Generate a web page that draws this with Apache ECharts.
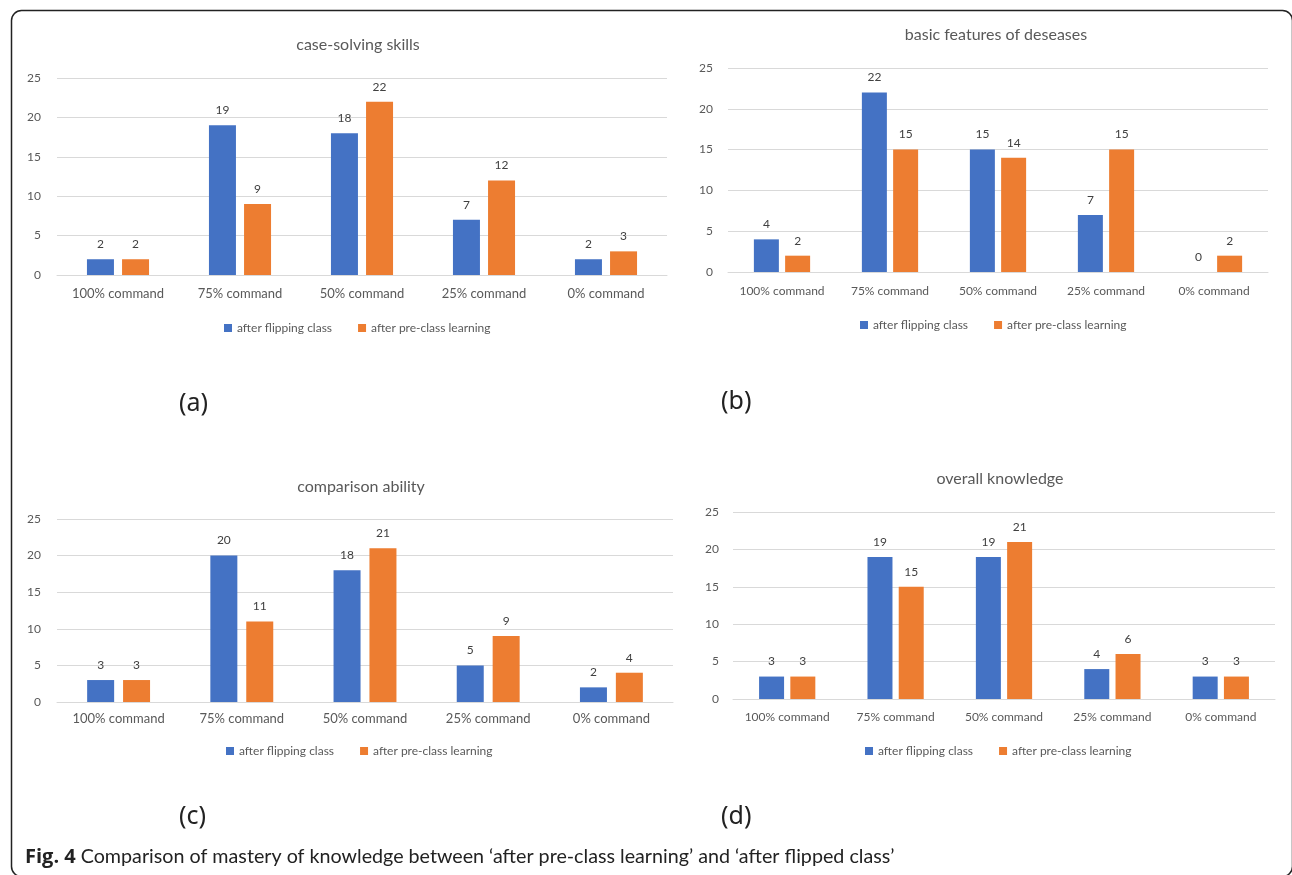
<!DOCTYPE html>
<html>
<head>
<meta charset="utf-8">
<script src="https://cdn.jsdelivr.net/npm/echarts@6/dist/echarts.min.js"></script>
<style>
  html, body { margin: 0; padding: 0; background: #fff; }
  #chart { width: 1292px; height: 875px; }
</style>
</head>
<body>
<div id="chart"></div>
<script>
// ---------- data ----------
const categories = ['100% command', '75% command', '50% command', '25% command', '0% command'];
const seriesNames = ['after flipping class', 'after pre-class learning'];
const yTicks = [0, 5, 10, 15, 20, 25];

const titleA = 'case-solving skills';
const flipA = [2, 19, 18, 7, 2];
const preA  = [2, 9, 22, 12, 3];

const titleB = 'basic features of deseases';
const flipB = [4, 22, 15, 7, 0];
const preB  = [2, 15, 14, 15, 2];

const titleC = 'comparison ability';
const flipC = [3, 20, 18, 5, 2];
const preC  = [3, 11, 21, 9, 4];

const titleD = 'overall knowledge';
const flipD = [3, 19, 19, 4, 3];
const preD  = [3, 15, 21, 6, 3];

const panelTags = ['(a)', '(b)', '(c)', '(d)'];
const captionBold = 'Fig. 4';
const captionText = ' Comparison of mastery of knowledge between \u2018after pre-class learning\u2019 and \u2018after flipped class\u2019';

// ---------- layout ----------
const FONT = 'Lato, "Open Sans", sans-serif';
const BLUE = '#4472C4', ORANGE = '#ED7D31';
const panels = [
  { title: titleA, flip: flipA, pre: preA, grid: {left: 57, top: 78, width: 610, height: 197}, tx: 353, ty: 43, ly: 328, lx: 357, bw: 27, gap: '30%', tag: [194, 407], xm: 12, ym: 16, xf: 13 },
  { title: titleB, flip: flipB, pre: preB, grid: {left: 728, top: 68, width: 540, height: 204}, tx: 991, ty: 33, ly: 325, lx: 993, bw: 25, gap: '25%', tag: [736, 405], xm: 13, ym: 15, xf: 12 },
  { title: titleC, flip: flipC, pre: preC, grid: {left: 57, top: 519, width: 616, height: 183}, tx: 356, ty: 485, ly: 751, lx: 359, bw: 27, gap: '33%', tag: [194, 820], xm: 10, ym: 16, xf: 13 },
  { title: titleD, flip: flipD, pre: preD, grid: {left: 733, top: 512, width: 542, height: 187}, tx: 995, ty: 477, ly: 751, lx: 998, bw: 25, gap: '25%', tag: [736, 820], xm: 12, ym: 14, xf: 12 }
];

// measure legend width for centering
const mctx = document.createElement('canvas').getContext('2d');
function textW(t, size) { mctx.font = size + 'px ' + FONT; return mctx.measureText(t).width; }
const LEG_FS = 12, LEG_IW = 8, LEG_GAP = 26;
const legendW = seriesNames.reduce((s, n) => s + LEG_IW + 5 + textW(n, LEG_FS), 0) + LEG_GAP;

const option = {
  animation: false,
  textStyle: { fontFamily: FONT },
  title: [], grid: [], xAxis: [], yAxis: [], series: [], legend: [],
  graphic: []
};

panels.forEach((p, i) => {
  option.grid.push(Object.assign({ containLabel: false }, p.grid));
  option.title.push({
    text: p.title, left: p.tx, top: p.ty - 11, textAlign: 'center',
    textStyle: { fontFamily: FONT, fontSize: 16, fontWeight: 'normal', color: '#595959' }
  });
  option.xAxis.push({
    type: 'category', gridIndex: i, data: categories,
    axisTick: { show: false },
    axisLine: { lineStyle: { color: '#d9d9d9', width: 1 } },
    axisLabel: { interval: 0, color: '#595959', fontSize: p.xf, margin: p.xm, fontFamily: FONT }
  });
  option.yAxis.push({
    type: 'value', gridIndex: i, min: yTicks[0], max: yTicks[yTicks.length - 1], interval: yTicks[1] - yTicks[0],
    axisLine: { show: false }, axisTick: { show: false },
    splitLine: { lineStyle: { color: '#d9d9d9', width: 1 } },
    axisLabel: { color: '#595959', fontSize: 12, margin: p.ym, fontFamily: FONT }
  });
  [p.flip, p.pre].forEach((vals, k) => {
    option.series.push({
      type: 'bar', name: seriesNames[k], xAxisIndex: i, yAxisIndex: i, data: vals,
      barWidth: p.bw, barGap: p.gap,
      itemStyle: { color: k === 0 ? BLUE : ORANGE },
      label: { show: true, position: 'top', distance: 9, color: '#404040', fontSize: 12, fontFamily: FONT }
    });
  });
  option.legend.push({
    data: seriesNames, left: Math.round(p.lx - legendW / 2), top: p.ly - 6, orient: 'horizontal',
    padding: 0,
    icon: 'rect', itemWidth: LEG_IW, itemHeight: 8, itemGap: LEG_GAP,
    textStyle: { color: '#595959', fontSize: LEG_FS, fontFamily: FONT },
    selectedMode: false
  });
  option.graphic.push({
    type: 'text', left: p.tag[0] - 15, top: p.tag[1] - 16,
    style: { text: panelTags[i], fontSize: 25, fontFamily: '"Noto Sans", sans-serif', fill: '#222' }
  });
});

// frame and caption
option.graphic.push({
  type: 'rect', left: 9, top: 8, z: -1,
  shape: { width: 1281, height: 866, r: 10 },
  style: { fill: 'none', stroke: '#222', lineWidth: 1.5 }
});
option.graphic.push({
  type: 'text', left: 25, top: 847,
  style: {
    text: '{b|' + captionBold + '}{n|' + captionText + '}',
    rich: {
      b: { fontSize: 20, fontWeight: 'bold', fontFamily: '"Open Sans", sans-serif', fill: '#222' },
      n: { fontSize: 19.7, fontFamily: FONT, fill: '#222' }
    }
  }
});

const chart = echarts.init(document.getElementById('chart'), null, { renderer: 'canvas' });
chart.setOption(option);
</script>
</body>
</html>
